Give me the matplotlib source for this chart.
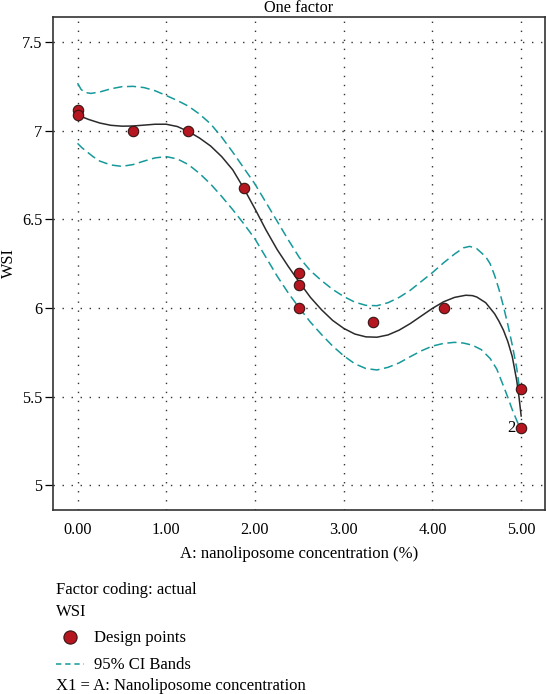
import matplotlib
matplotlib.use("Agg")
import matplotlib.pyplot as plt
from matplotlib.lines import Line2D

plt.rcParams["font.family"] = ["Liberation Serif", "DejaVu Serif"]

# design points (x = nanoliposome %, y = WSI)
pts_x = [0.0, 0.0, 0.625, 1.25, 1.875, 2.5, 2.5, 2.5, 3.333, 4.125, 5.0, 5.0]
pts_y = [7.12, 7.09, 7.0, 7.0, 6.68, 6.2, 6.13, 6.0, 5.92, 6.0, 5.54, 5.32]

# fitted model curve
fit_x = [0, 0.125, 0.25, 0.375, 0.5, 0.625, 0.75, 0.875, 1.0, 1.125, 1.25,
         1.375, 1.5, 1.625, 1.75, 1.875, 2.0, 2.125, 2.25, 2.375, 2.5, 2.625,
         2.75, 2.875, 3.0, 3.125, 3.25, 3.375, 3.5, 3.625, 3.75, 3.875, 4.0,
         4.125, 4.25, 4.375, 4.45, 4.5, 4.6, 4.7, 4.75, 4.8, 4.85, 4.9, 4.95,
         4.975, 5.0]
fit_y = [7.09, 7.065, 7.045, 7.032, 7.027, 7.028, 7.033, 7.038, 7.038, 7.025,
         6.997, 6.96, 6.915, 6.855, 6.78, 6.675, 6.56, 6.44, 6.33, 6.235, 6.145,
         6.06, 5.99, 5.93, 5.885, 5.853, 5.837, 5.835, 5.848, 5.875, 5.912,
         5.955, 5.998, 6.035, 6.06, 6.072, 6.07, 6.062, 6.03, 5.968, 5.925,
         5.875, 5.81, 5.725, 5.59, 5.5, 5.39]

# 95% CI bands
up_x = [0, 0.04, 0.08, 0.15, 0.25, 0.375, 0.5, 0.625, 0.75, 0.875, 1.0, 1.125,
        1.25, 1.375, 1.5, 1.625, 1.75, 1.875, 2.0, 2.125, 2.25, 2.375, 2.5,
        2.625, 2.75, 2.875, 3.0, 3.125, 3.25, 3.375, 3.5, 3.625, 3.75, 3.875,
        4.0, 4.125, 4.25, 4.35, 4.42, 4.5, 4.6, 4.65, 4.7, 4.75, 4.8, 4.85,
        4.9, 4.95, 4.98]
up_y = [7.27, 7.235, 7.218, 7.212, 7.22, 7.238, 7.25, 7.252, 7.245, 7.227,
        7.20, 7.172, 7.14, 7.095, 7.04, 6.965, 6.88, 6.79, 6.70, 6.595, 6.49,
        6.385, 6.285, 6.21, 6.155, 6.105, 6.065, 6.033, 6.015, 6.013, 6.03,
        6.06, 6.10, 6.15, 6.20, 6.255, 6.305, 6.34, 6.348, 6.335, 6.29, 6.25,
        6.185, 6.105, 6.01, 5.905, 5.79, 5.66, 5.55]
lo_x = [0, 0.05, 0.1, 0.175, 0.25, 0.375, 0.5, 0.625, 0.75, 0.875, 1.0, 1.125,
        1.25, 1.375, 1.5, 1.625, 1.75, 1.875, 2.0, 2.125, 2.25, 2.375, 2.5,
        2.625, 2.75, 2.875, 3.0, 3.125, 3.25, 3.375, 3.5, 3.625, 3.75, 3.875,
        4.0, 4.125, 4.25, 4.35, 4.45, 4.55, 4.65, 4.725, 4.8, 4.85, 4.9, 4.95,
        4.98]
lo_y = [6.93, 6.905, 6.885, 6.855, 6.83, 6.808, 6.80, 6.81, 6.83, 6.848,
        6.855, 6.842, 6.81, 6.76, 6.70, 6.63, 6.555, 6.475, 6.39, 6.285, 6.18,
        6.085, 6.00, 5.92, 5.85, 5.785, 5.73, 5.685, 5.658, 5.65, 5.665, 5.69,
        5.725, 5.758, 5.785, 5.80, 5.806, 5.802, 5.79, 5.765, 5.715, 5.655,
        5.56, 5.495, 5.425, 5.365, 5.33]

x_ticks = [0, 1, 2, 3, 4, 5]
x_labels = ["0.00", "1.00", "2.00", "3.00", "4.00", "5.00"]
y_ticks = [5, 5.5, 6, 6.5, 7, 7.5]
y_labels = ["5", "5.5", "6", "6.5", "7", "7.5"]

TEAL = "#16999a"
RED = "#b5161f"
W, H = 546, 694

fig = plt.figure(figsize=(W / 100, H / 100), dpi=100)
ax = fig.add_axes([53.3 / W, 1 - 510 / H, 491.2 / W, 492.7 / H])

ax.plot(up_x, up_y, color=TEAL, lw=1.1, dashes=(6, 3))
ax.plot(lo_x, lo_y, color=TEAL, lw=1.1, dashes=(6, 3))
ax.plot(fit_x, fit_y, color="#2b2b2b", lw=1.1)
ax.plot(pts_x, pts_y, "o", ms=7.5, mfc=RED, mec="#3a1515", mew=0.8, zorder=5)
ax.text(pts_x[-1] - 0.06, pts_y[-1], "2", ha="right", va="center", fontsize=12)

ax.set_xlim(-0.273, 5.263)
ax.set_ylim(4.859, 7.642)
ax.set_xticks(x_ticks, x_labels)
ax.set_yticks(y_ticks, y_labels)
ax.tick_params(axis="x", length=0, pad=9, labelsize=11.7)
ax.tick_params(axis="y", length=6, width=0.9, pad=2, labelsize=11.7)
ax.grid(True, color="#333333", lw=1.0, dashes=(1, 5.5))
for s in ax.spines.values():
    s.set_linewidth(1.2)
    s.set_color("#333333")

fig.text(299 / W, 1 - 7.5 / H, "One factor", ha="center", va="center", fontsize=11.7)
fig.text(9 / W, 1 - 263 / H, "WSI", ha="center", va="center", rotation=90, fontsize=11.7)
fig.text(299 / W, 1 - 554 / H, "A: nanoliposome concentration (%)", ha="center",
         va="center", fontsize=12)

lx = 55.7 / W
fig.text(lx, 1 - 594 / H, "Factor coding: actual", fontsize=12, va="baseline")
fig.text(lx, 1 - 616.5 / H, "WSI", fontsize=12, va="baseline")
fig.text(94 / W, 1 - 642 / H, "Design points", fontsize=12, va="baseline")
fig.text(94 / W, 1 - 669 / H, "95% CI Bands", fontsize=12, va="baseline")
fig.text(lx, 1 - 690 / H, "X1 = A: Nanoliposome concentration", fontsize=12, va="baseline")
fig.add_artist(Line2D([69.6 / W], [1 - 637 / H], marker="o", ms=9.5, mfc=RED,
                      mec="#3a1515", mew=0.8, ls="none"))
fig.add_artist(Line2D([56 / W, 84 / W], [1 - 664 / H] * 2, color=TEAL, lw=1.1,
                      dashes=(3.5, 2.5)))

fig.savefig("out.png", dpi=100)
